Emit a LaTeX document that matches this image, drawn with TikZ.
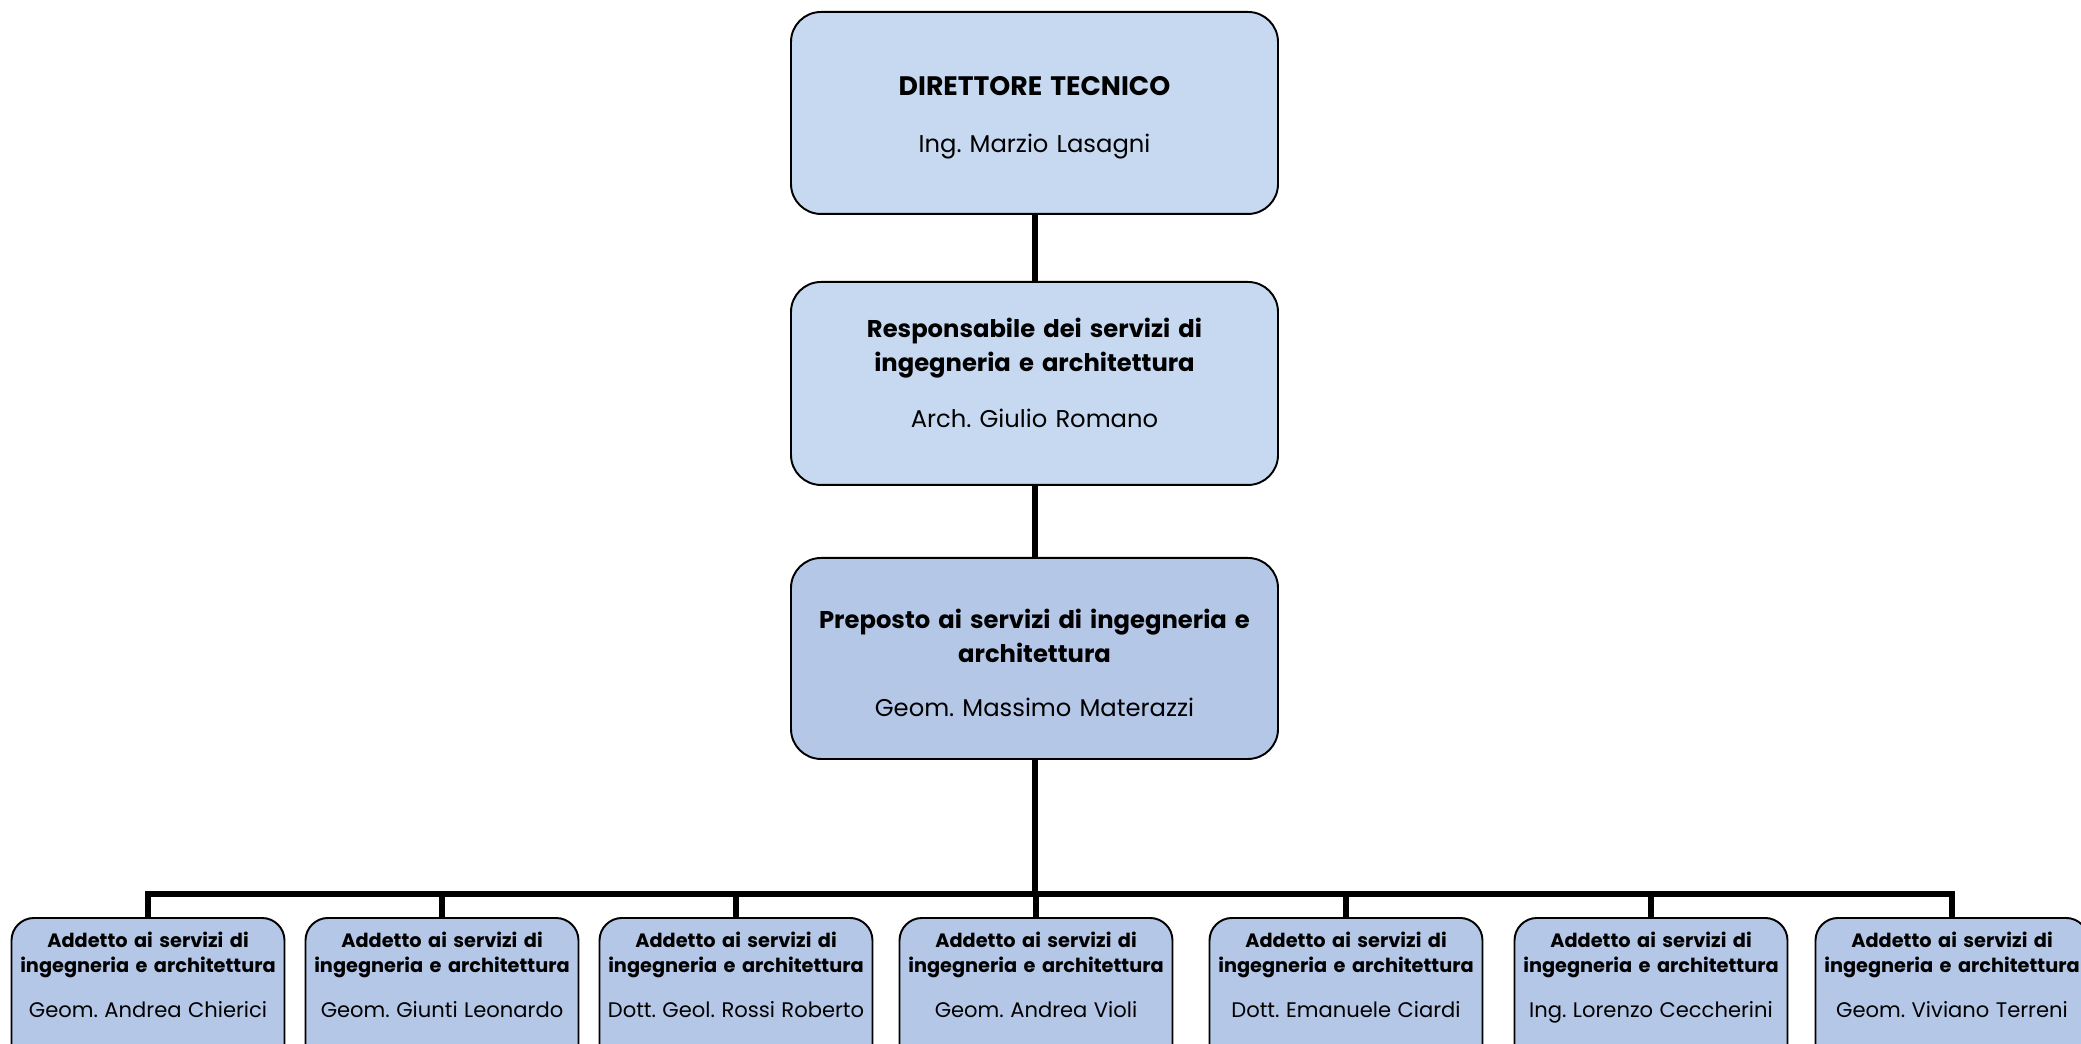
\documentclass[tikz,border=0pt]{standalone}
\usepackage{fontspec}
\setmainfont{Poppins}
\frenchspacing
\usetikzlibrary{positioning}
\definecolor{paleblue}{RGB}{198,217,240}
\definecolor{midblue}{RGB}{180,199,231}
\newcommand{\nome}[1]{{\fontsize{12}{14.2}\selectfont #1}}

\begin{document}
\begin{tikzpicture}[
    headbox/.style={draw=black, line width=1.1pt, rounded corners=0.6cm,
      anchor=north, align=center, text width=9.5cm,
      inner xsep=0.12cm, inner ysep=0pt,
      font=\fontsize{13.8}{18.8}\selectfont},
    staffbox/.style={draw=black, line width=1.1pt, rounded corners=0.45cm,
      fill=midblue, anchor=north, align=center, text width=5.3cm,
      inner xsep=0.08cm, inner ysep=0pt,
      text height=0.6cm, text depth=2.66cm,
      font=\fontsize{11}{14.2}\selectfont},
    link/.style={line width=0.12cm},
  ]
  \useasboundingbox (0,0) rectangle (41.62,-20.88);
  % direzione
  \node [headbox,fill=paleblue,text height=1.68cm,text depth=2.36cm]
    at (20.69,-0.22) (direttore)
    {{\fontsize{15.2}{18.8}\selectfont\textbf{DIRETTORE TECNICO}}\\[13.2pt]Ing. Marzio Lasagni}
  ;
  \node [headbox,fill=paleblue,text height=1.12cm,text depth=2.94cm]
    at (20.69,-5.62) (responsabile)
    {\textbf{Responsabile dei servizi di}\\\textbf{ingegneria e architettura}\\[13.6pt]Arch. Giulio Romano}
  ;
  \node [headbox,fill=midblue,text height=1.42cm,text depth=2.6cm]
    at (20.69,-11.14) (preposto)
    {\textbf{Preposto ai servizi di ingegneria e}\\\textbf{architettura}\\[12.4pt]Geom. Massimo Materazzi}
  ;
  % addetti
  \node [staffbox] at (2.96,-18.34) (addetto1)
    {\textbf{Addetto ai servizi di}\\\textbf{ingegneria e architettura}\\[11.2pt]\nome{Geom. Andrea Chierici}};
  \node [staffbox] at (8.84,-18.34) (addetto2)
    {\textbf{Addetto ai servizi di}\\\textbf{ingegneria e architettura}\\[11.2pt]\nome{Geom. Giunti Leonardo}};
  \node [staffbox] at (14.72,-18.34) (addetto3)
    {\textbf{Addetto ai servizi di}\\\textbf{ingegneria e architettura}\\[11.2pt]\nome{Dott. Geol. Rossi Roberto}};
  \node [staffbox] at (20.72,-18.34) (addetto4)
    {\textbf{Addetto ai servizi di}\\\textbf{ingegneria e architettura}\\[11.2pt]\nome{Geom. Andrea Violi}};
  \node [staffbox] at (26.92,-18.34) (addetto5)
    {\textbf{Addetto ai servizi di}\\\textbf{ingegneria e architettura}\\[11.2pt]\nome{Dott. Emanuele Ciardi}};
  \node [staffbox] at (33.02,-18.34) (addetto6)
    {\textbf{Addetto ai servizi di}\\\textbf{ingegneria e architettura}\\[11.2pt]\nome{Ing. Lorenzo Ceccherini}};
  \node [staffbox] at (39.04,-18.34) (addetto7)
    {\textbf{Addetto ai servizi di}\\\textbf{ingegneria e architettura}\\[11.2pt]\nome{Geom. Viviano Terreni}};
  % linee
  \draw [link] (direttore) -- (responsabile);
  \draw [link] (responsabile) -- (preposto);
  \draw [link]
    (preposto.south)
    -- ++(0,-2.68)
      coordinate (bus)
  ;
  \draw [link] (bus) -| (addetto1.north);
  \draw [link] (bus) -| (addetto2.north);
  \draw [link] (bus) -| (addetto3.north);
  \draw [link] (bus) -| (addetto4.north);
  \draw [link] (bus) -| (addetto5.north);
  \draw [link] (bus) -| (addetto6.north);
  \draw [link] (bus) -| (addetto7.north);
\end{tikzpicture}
\end{document}
